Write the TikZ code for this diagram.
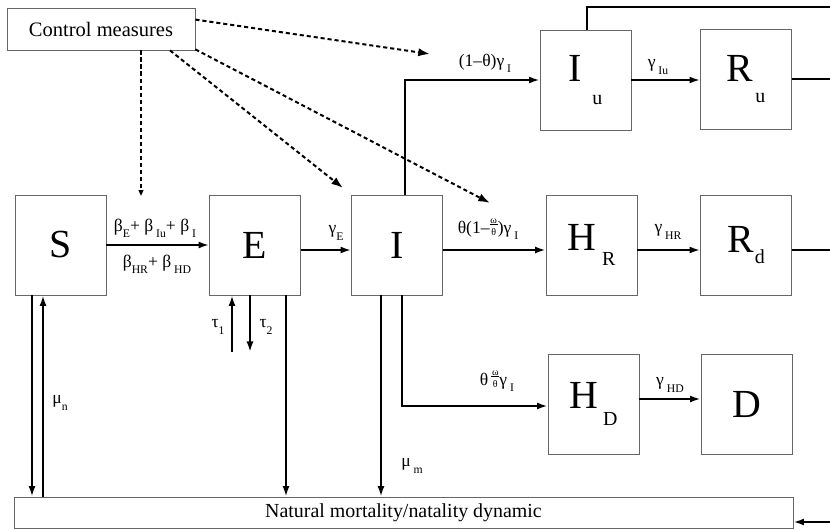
\documentclass[tikz,border=0pt]{standalone}
\usepackage{fontspec}
\setmainfont{Liberation Serif}
\usepackage{amsmath}
\usetikzlibrary{arrows.meta}
\newcommand{\sub}[1]{\raisebox{-0.35em}{\fontsize{10}{10}\selectfont #1}}
\newcommand{\frc}[2]{\raisebox{-0.1em}{\shortstack{\fontsize{8.5}{7}\selectfont #1\\[-2pt]\rule{7pt}{0.4pt}\\[0pt]\fontsize{8.5}{7}\selectfont #2}}}
\newcommand{\bigsub}[4]{#1\hspace{#3}\raisebox{#4}{\fontsize{17}{17}\selectfont #2}}

\begin{document}
\begin{tikzpicture}[x=0.03cm,y=-0.03cm,>={Latex[length=9pt,width=6pt]},
    box/.style={draw=black!60,line width=0.7pt,minimum width=2.73cm,minimum height=3cm,inner sep=0pt,font=\fontsize{34}{36}\selectfont},
    wide/.style={draw=black!60,line width=0.7pt,inner sep=0pt,font=\fontsize{17}{18}\selectfont},
    flow/.style={->,line width=1.7pt},
    ctrl/.style={line width=1.7pt,dash pattern=on 3.5pt off 2.5pt,-{Latex[length=10pt,width=7pt]}},
    lab/.style={font=\fontsize{15}{16}\selectfont,inner sep=1pt}]
  \useasboundingbox (0,0) rectangle (830,531);
  % compartments
  \node[wide,minimum width=5.64cm,minimum height=1.26cm,font=\fontsize{17.5}{18}\selectfont] (C) at (101,29) {Control measures};
  \node[box] (S) at (60.5,245) {S};
  \node[box] (E) at (255,245) {E};
  \node[box] (I) at (397,245) {I};
  \node[box] (Iu) at (585.5,80) {\bigsub{I}{u}{9pt}{-19pt}};
  \node[box] (Ru) at (746,79) {\bigsub{R}{u}{2pt}{-18pt}};
  \node[box] (HR) at (591.5,245) {\bigsub{H}{R}{5pt}{-13pt}};
  \node[box] (Rd) at (746,245) {\bigsub{R}{d}{1pt}{-10pt}};
  \node[box] (HD) at (593.5,404) {\bigsub{H}{D}{4pt}{-14pt}};
  \node[box] (D) at (746.5,404) {D};
  \node[wide,minimum width=23.37cm,minimum height=0.93cm] (N) at (403.5,512.5) {Natural mortality/natality dynamic};
  \coordinate (rgt) at (830,0);
  \coordinate (topR) at (830,7);
  \coordinate (nin) at (830,522);
  \coordinate (t1) at (232,352);
  \coordinate (t2) at (250,352);
  \coordinate (cSE) at (141,196);
  \coordinate (cI) at (343,188);
  \coordinate (cHR) at (490,203);
  \coordinate (cIu) at (430,54);
  % main flows
  \draw[flow] (S.east) -- (E.west);
  \draw[flow] ([yshift=-0.15cm]E.east) -- ([yshift=-0.15cm]I.west);
  \draw[flow] ([yshift=-0.15cm]I.east) -- ([yshift=-0.15cm]HR.west);
  \draw[flow] ([yshift=-0.15cm]HR.east) -- ([yshift=-0.15cm]Rd.west);
  \draw[line width=1.7pt] ([yshift=-0.15cm]Rd.east) -- ([yshift=-0.15cm]Rd.east -| rgt);
  \draw[flow] ([xshift=0.24cm]I.north) |- (Iu.west);
  \draw[flow] (Iu.east) -- (Iu.east -| Ru.west);
  \draw[line width=1.7pt] (Ru.east) -- (Ru.east -| rgt);
  \draw[line width=1.7pt] ([xshift=0.05cm]Iu.north) |- (topR);
  \draw[flow] ([xshift=0.15cm]I.south) |- ([yshift=-0.06cm]HD.west);
  \draw[flow] ([yshift=0.15cm]HD.east) -- ([yshift=0.15cm]HD.east -| D.west);
  % natural dynamic
  \draw[flow] ([xshift=-0.48cm]I.south) -- ([xshift=-0.48cm]I.south |- N.north);
  \draw[flow] ([xshift=-0.855cm]S.south) -- ([xshift=-0.855cm]S.south |- N.north);
  \draw[flow] ([xshift=-0.525cm]S.south |- N.north) -- ([xshift=-0.525cm]S.south);
  \draw[flow] ([xshift=0.93cm]E.south) -- ([xshift=0.93cm]E.south |- N.north);
  \draw[flow] (t1) -- (t1 |- E.south);
  \draw[flow] (t2 |- E.south) -- (t2);
  \draw[flow] (nin) -- (nin -| N.east);
  % control
  \draw[ctrl,-{Triangle[open,length=5pt,width=4pt]}] (cSE |- C.south) -- (cSE);
  \draw[ctrl] ([xshift=2.07cm]C.south) -- (cI);
  \draw[ctrl] ([yshift=0.03cm]C.south east) -- (cHR);
  \draw[ctrl] ([yshift=-0.36cm]C.north east) -- (cIu);
  % rates
  \node[lab] (lSE) at (155,228) {β\sub{E}+ β\,\sub{Iu}+ β\,\sub{I}};
  \node[lab] (lSE2) at (157,264) {β\sub{HR}+ β\,\sub{HD}};
  \node[lab] (lEI) at (336,233) {γ\sub{E}};
  \node[lab] (lIIu) at (485,63) {(1–θ)γ\,\sub{I}};
  \node[lab] (lIuRu) at (658,67) {γ\,\sub{Iu}};
  \node[lab] (lIHR) at (488,229) {θ(1–\frc{ω}{θ})γ\,\sub{I}};
  \node[lab] (lHRRd) at (668,232) {γ\,\sub{HR}};
  \node[lab] (lIHD) at (497,381) {θ\,\frc{ω}{θ}γ\,\sub{I}};
  \node[lab] (lHDD) at (670,385) {γ\,\sub{HD}};
  \node[lab] (lmn) at (60,403) {μ\sub{n}};
  \node[lab] (lmm) at (412,466) {μ\,\sub{m}};
  \node[lab] (lt1) at (218,327) {τ\sub{1}};
  \node[lab] (lt2) at (266,327) {τ\sub{2}};
\end{tikzpicture}
\end{document}
